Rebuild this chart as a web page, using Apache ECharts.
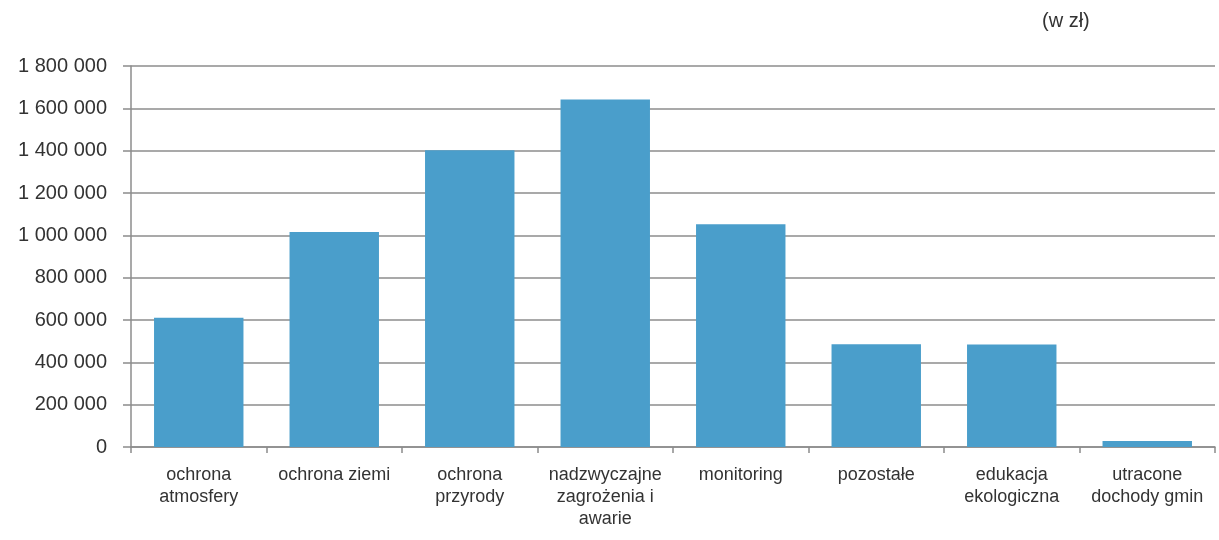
<!DOCTYPE html>
<html>
<head>
<meta charset="utf-8">
<script src="https://cdn.jsdelivr.net/npm/echarts@6/dist/echarts.min.js"></script>
<style>html,body{margin:0;padding:0;background:#fff}#c{width:1219px;height:540px}</style>
</head>
<body>
<div id="c"></div>
<script>
const categories = ["ochrona\natmosfery", "ochrona ziemi", "ochrona\nprzyrody", "nadzwyczajne\nzagrożenia i\nawarie", "monitoring", "pozostałe", "edukacja\nekologiczna", "utracone\ndochody gmin"];
const values = [611000, 1016000, 1402000, 1642000, 1052000, 486000, 484000, 28000];
const unitLabel = "(w zł)";
const yMax = 1800000;
const yStep = 200000;

const chart = echarts.init(document.getElementById('c'), null, {renderer: 'canvas'});
const fmt = v => String(v).replace(/\B(?=(\d{3})+(?!\d))/g, ' ');
chart.setOption({
  animation: false,
  backgroundColor: '#fff',
  textStyle: {fontFamily: '"Liberation Sans", Arial, sans-serif'},
  graphic: [{
    type: 'text', left: 1042, top: 11,
    style: {text: unitLabel, font: '20px "Liberation Sans", Arial, sans-serif', fill: '#333'}
  }],
  grid: {left: 131, right: 4, top: 66, bottom: 93, containLabel: false},
  xAxis: {
    type: 'category',
    data: categories,
    axisLine: {lineStyle: {color: '#8c8c8c', width: 1.5}},
    axisTick: {show: true, length: 6, alignWithLabel: false, lineStyle: {color: '#8c8c8c', width: 1.5}},
    axisLabel: {interval: 0, color: '#333', fontSize: 18, lineHeight: 22, margin: 17, fontFamily: '"Liberation Sans", Arial, sans-serif'}
  },
  yAxis: {
    type: 'value',
    min: 0, max: yMax, interval: yStep,
    axisLine: {show: true, lineStyle: {color: '#8c8c8c', width: 1.5}},
    axisTick: {show: true, length: 8, lineStyle: {color: '#8c8c8c', width: 1.5}},
    splitLine: {lineStyle: {color: '#8c8c8c', width: 1.5}},
    axisLabel: {color: '#333', fontSize: 20, margin: 24, formatter: fmt, fontFamily: '"Liberation Sans", Arial, sans-serif'}
  },
  series: [{
    type: 'bar',
    data: values,
    barCategoryGap: '34%',
    itemStyle: {color: '#4a9ecb'}
  }]
});
</script>
</body>
</html>
